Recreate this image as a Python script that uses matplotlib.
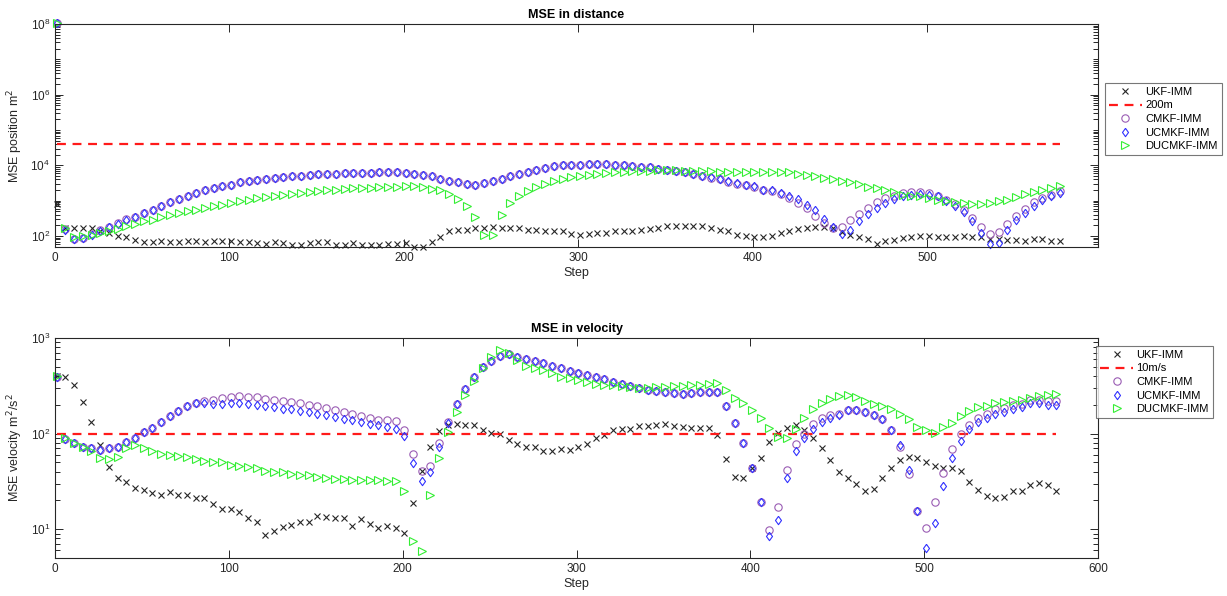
import matplotlib
matplotlib.use("Agg")
import matplotlib.pyplot as plt
from matplotlib.ticker import LogLocator, NullFormatter, LogFormatterMathtext

plt.rcParams['font.family'] = ['Liberation Sans', 'DejaVu Sans']

# sample index of every 5th step
steps = list(range(1, 577, 5))

# ---- position MSE (m^2) ----
pos_ukf = [830, 165, 165, 165, 165, 140, 120, 98, 92, 79,
           68, 68, 72, 68, 68, 71, 74, 68, 71, 73,
           74, 68, 68, 63, 59, 68, 63, 56, 54, 63,
           68, 68, 54, 57, 63, 57, 54, 57, 59, 59,
           63, 48, 49, 66, 94, 140, 151, 151, 168, 168,
           175, 168, 165, 165, 151, 151, 142, 142, 135, 114,
           109, 114, 122, 122, 142, 142, 142, 151, 158, 165,
           196, 188, 188, 188, 196, 168, 151, 142, 109, 102,
           92, 94, 102, 122, 142, 158, 165, 180, 176, 165,
           130, 107, 92, 85, 59, 71, 79, 88, 94, 102,
           98, 92, 92, 92, 98, 92, 92, 82, 82, 79,
           79, 71, 82, 82, 74, 74]
pos_cmkf = [1.1e8, 155, 84, 90, 112, 150, 180, 228, 295, 350,
            455, 560, 700, 905, 1120, 1390, 1660, 1980, 2300, 2570,
            2860, 3330, 3720, 3970, 4240, 4430, 4620, 4930, 5150, 5480,
            5600, 5850, 5850, 6100, 6100, 6230, 6230, 6330, 6380, 6380,
            6100, 5850, 5250, 4920, 4130, 3710, 3330, 2990, 2860, 3190,
            3560, 4130, 4920, 5850, 6500, 7550, 8420, 9400, 10000, 10450,
            10450, 10920, 11150, 10920, 10450, 10000, 9375, 8980, 8780, 8050,
            7530, 6760, 6475, 5810, 5050, 4500, 4000, 3430, 3050, 2730,
            2440, 2000, 1850, 1550, 1190, 859, 620, 360, 233, 168,
            176, 277, 428, 620, 916, 1190, 1386, 1650, 1722, 1722,
            1650, 1386, 1067, 822, 532, 323, 176, 114, 130, 223,
            376, 580, 916, 1190, 1480, 1838]
pos_ucmkf = [1.1e8, 151, 82, 88, 109, 142, 176, 223, 290, 345,
             448, 555, 690, 897, 1115, 1386, 1650, 1960, 2280, 2545,
             2837, 3300, 3680, 3930, 4195, 4380, 4575, 4885, 5100, 5445,
             5560, 5810, 5810, 6070, 6070, 6200, 6200, 6300, 6340, 6340,
             6070, 5810, 5210, 4885, 4100, 3680, 3300, 2965, 2837, 3160,
             3525, 4100, 4885, 5810, 6475, 7530, 8405, 9375, 10000, 10450,
             10450, 10920, 11150, 10920, 10450, 10000, 9375, 8980, 8780, 8050,
             7530, 6760, 6475, 5810, 5100, 4575, 4100, 3525, 3160, 2837,
             2545, 2045, 1960, 1650, 1327, 1115, 771, 532, 310, 176,
             114, 151, 260, 420, 620, 859, 1115, 1327, 1480, 1580,
             1480, 1327, 1000, 690, 468, 260, 122, 59, 63, 151,
             277, 448, 721, 1067, 1327, 1650]
pos_ducmkf = [1.1e8, 165, 92, 98, 109, 122, 135, 158, 188, 223,
              260, 290, 345, 402, 448, 499, 555, 620, 690, 771,
              859, 957, 1067, 1190, 1270, 1386, 1480, 1580, 1650, 1760,
              1838, 1960, 2045, 2136, 2230, 2280, 2333, 2385, 2437, 2437,
              2545, 2545, 2385, 2187, 1960, 1580, 1140, 721, 338, 109,
              109, 384, 859, 1327, 1918, 2437, 2965, 3525, 4195, 4680,
              5100, 5445, 5810, 6070, 6340, 6475, 6760, 6760, 7060, 7210,
              7210, 7210, 7060, 6760, 6760, 6760, 6475, 6475, 6475, 6475,
              6475, 6475, 6475, 6340, 6340, 5810, 5445, 4885, 4380, 4100,
              3680, 3375, 3030, 2437, 2280, 1960, 1722, 1480, 1386, 1327,
              1190, 1067, 1000, 897, 859, 822, 822, 859, 1000, 1067,
              1243, 1580, 1722, 1960, 2280, 2660]
pos_limit = 200 ** 2

# ---- velocity MSE (m^2/s^2) ----
vel_ukf = [400, 389, 324, 214, 132, 76, 45, 34, 31, 27,
           26, 24, 23, 24.5, 22.6, 23, 21.4, 21.4, 18.4, 16.2,
           16.2, 15.0, 13.0, 12.0, 8.7, 9.6, 10.6, 11.1, 12.0, 12.0,
           13.7, 13.3, 13.0, 13.0, 10.9, 12.7, 11.3, 10.4, 10.8, 10.2,
           9.2, 18.6, 41, 73, 107, 123, 125, 123, 122, 109,
           102, 98, 86, 78, 72, 73, 65, 65, 69, 67,
           73, 78, 91, 96, 109, 113, 113, 120, 120, 122,
           125, 120, 117, 115, 115, 115, 96, 54, 35, 34,
           44, 56, 81, 102, 115, 122, 108, 89, 70, 53,
           40, 34, 30, 25, 26.6, 34.5, 44, 53, 57, 56,
           50, 46, 44, 44, 41, 31, 26, 22, 21, 21.8,
           25, 25, 28.8, 30.6, 28.8, 25]
vel_cmkf = [395, 87, 79, 73, 70, 67, 70, 72, 81, 91,
            104, 115, 133, 152, 172, 193, 209, 218, 226, 236,
            241, 245, 241, 239, 232, 226, 221, 214, 209, 201,
            193, 186, 176, 168, 161, 152, 144, 140, 138, 134,
            108, 61, 40.4, 46, 79, 133, 204, 292, 389, 494,
            578, 651, 677, 636, 601, 578, 542, 509, 482, 456,
            435, 411, 389, 371, 345, 329, 311, 299, 288, 281,
            270, 266, 261, 266, 270, 270, 270, 193, 130, 79,
            44, 19.3, 9.8, 17.1, 42, 78, 98, 125, 144, 156,
            161, 176, 176, 169, 156, 143, 109, 72, 38, 15.5,
            10.2, 19.3, 39, 69, 100, 123, 146, 162, 179, 186,
            201, 206, 226, 223, 221, 218]
vel_ucmkf = [395, 87, 79, 73, 70, 67, 70, 72, 81, 91,
             104, 115, 133, 152, 172, 193, 209, 209, 206, 206,
             209, 209, 206, 201, 196, 190, 183, 179, 174, 169,
             162, 155, 149, 143, 138, 133, 127, 122, 117, 113,
             95, 49, 31.8, 40, 72, 130, 204, 292, 389, 494,
             578, 651, 677, 636, 601, 578, 542, 509, 482, 456,
             435, 411, 389, 371, 345, 329, 311, 299, 288, 281,
             270, 266, 261, 266, 270, 270, 270, 193, 130, 79,
             44, 19.3, 8.4, 12.5, 34, 66, 91, 111, 132, 146,
             158, 176, 176, 169, 156, 141, 109, 76, 42, 15.5,
             6.4, 11.5, 28.3, 56, 84, 111, 132, 146, 162, 168,
             179, 190, 209, 209, 201, 201]
vel_ducmkf = [400, 89, 79, 72, 66, 55, 54, 57, 70, 76,
              71, 66, 61, 60, 58, 56.5, 54, 52, 51, 50,
              47, 46, 44.5, 43.5, 41, 40, 39.5, 38, 36.5, 36.5,
              35, 34.5, 33.7, 33.2, 32.9, 32.9, 32.4, 32.4, 31.8, 31.8,
              25.1, 7.45, 5.97, 22.6, 55.6, 104, 168, 255, 356, 482,
              636, 745, 700, 588, 509, 482, 463, 428, 389, 380,
              365, 345, 329, 324, 319, 311, 306, 299, 303, 306,
              306, 311, 316, 319, 324, 332, 337, 283, 236, 209,
              176, 146, 115, 92, 89, 111, 144, 179, 209, 232,
              250, 255, 241, 221, 204, 193, 179, 161, 143, 117,
              108, 102, 117, 130, 152, 172, 189, 196, 209, 214,
              221, 226, 236, 245, 255, 261]
vel_limit = 10 ** 2

AX_COLOR = '#262626'
C_UKF = '#262626'
C_CMKF = '#9a5cb4'
C_UCMKF = '#3030ff'
C_DUCMKF = '#33ee33'

# diamond a bit wider than matplotlib's thin 'd'
DIAMOND = [(0, 1), (0.72, 0), (0, -1), (-0.72, 0), (0, 1)]


def draw_panel(ax, ukf, cmkf, ucmkf, ducmkf, limit, limit_label):
    mk = dict(linestyle='none', markerfacecolor='none', clip_on=False,
              markeredgewidth=0.8)
    ax.plot(steps, ukf, marker='x', color=C_UKF, markersize=3.8,
            label='UKF-IMM', **mk)
    ax.plot(steps, [limit] * len(steps), '--', color='#ff1a1a',
            linewidth=1.6, dashes=(4, 3), label=limit_label)
    ax.plot(steps, cmkf, marker='o', color=C_CMKF, markersize=5.3,
            label='CMKF-IMM', **mk)
    ax.plot(steps, ucmkf, marker=DIAMOND, color=C_UCMKF, markersize=6.0,
            label='UCMKF-IMM', **mk)
    ax.plot(steps, ducmkf, marker='>', color=C_DUCMKF, markersize=5.4,
            label='DUCMKF-IMM', **mk)
    ax.set_yscale('log')
    for sp in ax.spines.values():
        sp.set_color(AX_COLOR)
        sp.set_linewidth(0.8)
    ax.tick_params(which='both', direction='in', top=True, right=True,
                   colors=AX_COLOR, labelsize=8.5, width=0.7)
    ax.tick_params(which='major', length=6)
    ax.tick_params(which='minor', length=3.5)
    ax.yaxis.set_minor_locator(LogLocator(base=10, subs=range(1, 10), numticks=50))
    ax.yaxis.set_minor_formatter(NullFormatter())
    ax.yaxis.set_major_formatter(LogFormatterMathtext())
    ax.set_xlabel('Step', fontsize=9, color=AX_COLOR, labelpad=2)
    leg = ax.legend(loc='upper left', fontsize=8, frameon=True, fancybox=False,
                    handlelength=3.0, handletextpad=0.3, labelspacing=0.32,
                    borderpad=0.35, borderaxespad=0)
    leg.get_frame().set_edgecolor('#555555')
    leg.get_frame().set_linewidth(0.8)
    return leg


fig = plt.figure(figsize=(12.27, 5.96), dpi=100)
ax1 = fig.add_axes([0.0448, 0.5856, 0.8501, 0.3741])
ax2 = fig.add_axes([0.0448, 0.0638, 0.8501, 0.3691])

leg1 = draw_panel(ax1, pos_ukf, pos_cmkf, pos_ucmkf, pos_ducmkf, pos_limit, '200m')
ax1.set_xlim(0, 598)
ax1.set_ylim(49, 1e8)
ax1.set_yticks([1e2, 1e4, 1e6, 1e8])
ax1.set_ylabel('MSE position m$^2$', fontsize=9, color=AX_COLOR, labelpad=4)
ax1.set_title('MSE in distance', fontsize=9, fontweight='bold', pad=4)
leg1.set_bbox_to_anchor((0.9005, 0.8607), transform=fig.transFigure)

leg2 = draw_panel(ax2, vel_ukf, vel_cmkf, vel_ucmkf, vel_ducmkf, vel_limit, '10m/s')
ax2.set_xlim(0, 600)
ax2.set_ylim(5, 1000)
ax2.set_yticks([1e1, 1e2, 1e3])
ax2.set_ylabel('MSE velocity m$^2$/s$^2$', fontsize=9, color=AX_COLOR, labelpad=4)
ax2.set_title('MSE in velocity', fontsize=9, fontweight='bold', pad=4)
leg2.set_bbox_to_anchor((0.8932, 0.4195), transform=fig.transFigure)

fig.savefig('out.png', dpi=100, facecolor='white')
